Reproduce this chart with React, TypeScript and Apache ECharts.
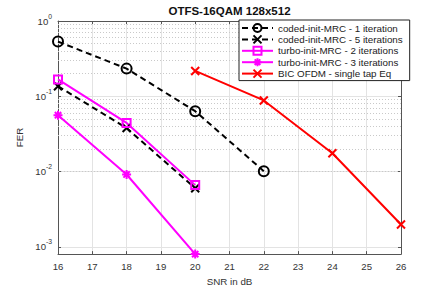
import React, { useEffect, useRef } from "react";
import * as echarts from "echarts";

const snrTicks = [16, 17, 18, 19, 20, 21, 22, 23, 24, 25, 26];
const codedMrc1X = [16, 18, 20, 22];
const codedMrc1 = [0.533, 0.233, 0.0634, 0.0101];
const codedMrc5X = [16, 18, 20];
const codedMrc5 = [0.136, 0.0378, 0.006];
const turbo2X = [16, 18, 20];
const turbo2 = [0.1675, 0.0442, 0.0066];
const turbo3X = [16, 18, 20];
const turbo3 = [0.056, 0.00914, 0.0008];
const ofdmX = [20, 22, 24, 26];
const ofdm = [0.217, 0.088, 0.0175, 0.00198];
const minorGrid = [
  0.0009,
  0.002, 0.003, 0.004, 0.005, 0.006, 0.007, 0.008, 0.009,
  0.02, 0.03, 0.04, 0.05, 0.06, 0.07, 0.08, 0.09,
  0.2, 0.3, 0.4, 0.5, 0.6, 0.7, 0.8, 0.9,
];
const names = [
  "coded-init-MRC - 1 iteration",
  "coded-init-MRC - 5 iterations",
  "turbo-init-MRC - 2 iterations",
  "turbo-init-MRC - 3 iterations",
  "BIC OFDM - single tap Eq",
];

const FONT = "'Liberation Sans', Arial, Helvetica, sans-serif";
const X_SYM = "path://M0,0L10,10M10,0L0,10";
const STAR_SYM = "path://M5,0L5,10M0,5L10,5M1.5,1.5L8.5,8.5M8.5,1.5L1.5,8.5";
const CIRCLE_SYM = "path://M10,5A5,5,0,1,1,0,5A5,5,0,1,1,10,5Z";
const RECT_SYM = "path://M0,0L10,0L10,10L0,10Z";

const zip = (xs: number[], ys: number[]) => xs.map((x, i) => [x, ys[i]]);

function mkSeries(
  name: string,
  xs: number[],
  ys: number[],
  color: string,
  dashed: boolean,
  symbol: string,
  size: number
) {
  return {
    name,
    type: "line",
    data: zip(xs, ys),
    symbol,
    symbolSize: size,
    showAllSymbol: true,
    z: 3,
    lineStyle: { color, width: 2, type: dashed ? [6, 4] : "solid" },
    itemStyle: { color: "rgba(0,0,0,0)", borderColor: color, borderWidth: 2 },
    emphasis: { disabled: true },
  };
}

export default function App() {
  const ref = useRef<HTMLDivElement>(null);
  useEffect(() => {
    if (!ref.current) return;
    const chart = echarts.init(ref.current, null, { renderer: "svg" });
    const axisColor = "#555";
    const labelColor = "#333";
    chart.setOption({
      animation: false,
      textStyle: { fontFamily: FONT },
      grid: { left: 58, right: 42, top: 21, bottom: 33 },
      legend: {
        data: names,
        orient: "vertical",
        left: 239,
        top: 20,
        padding: [3, 7, 2, 2],
        itemWidth: 31,
        itemHeight: 10,
        itemGap: 1.4,
        backgroundColor: "#fff",
        borderColor: "#222",
        borderWidth: 1,
        borderRadius: 0,
        textStyle: { fontFamily: FONT, fontSize: 9.8, color: "#222", lineHeight: 10 },
        selectedMode: false,
      },
      xAxis: [
        {
          type: "value",
          min: 16,
          max: 26,
          interval: 1,
          name: "SNR in dB",
          nameLocation: "middle",
          nameGap: 18,
          nameTextStyle: { fontFamily: FONT, fontSize: 9.8, color: labelColor },
          axisLine: { show: true, lineStyle: { color: axisColor, width: 1 } },
          axisTick: { show: true, inside: true, length: 3, lineStyle: { color: axisColor } },
          axisLabel: {
            margin: 7,
            fontFamily: FONT,
            fontSize: 9.6,
            color: labelColor,
            customValues: snrTicks,
          },
          splitLine: { show: true, lineStyle: { color: "#e3e3e3", width: 1 } },
        },
        {
          type: "value",
          position: "top",
          min: 16,
          max: 26,
          interval: 1,
          name: "OTFS-16QAM 128x512",
          nameLocation: "middle",
          nameGap: 4,
          nameTextStyle: { fontFamily: FONT, fontSize: 11.5, fontWeight: "bold", color: "#111" },
          axisLine: { show: true, onZero: false, lineStyle: { color: axisColor, width: 1 } },
          axisTick: { show: true, inside: true, length: 3, lineStyle: { color: axisColor } },
          axisLabel: { show: false },
          splitLine: { show: false },
        },
      ],
      yAxis: [
        {
          type: "log",
          logBase: 10,
          min: 0.0008,
          max: 1,
          name: "FER",
          nameLocation: "middle",
          nameGap: 30,
          nameTextStyle: { fontFamily: FONT, fontSize: 9.8, color: labelColor },
          axisLine: { show: true, lineStyle: { color: axisColor, width: 1 } },
          axisTick: { show: true, inside: true, length: 3, lineStyle: { color: axisColor } },
          axisLabel: {
            margin: 6,
            formatter: (v: number) => {
              const e = Math.log10(v);
              if (Math.abs(e - Math.round(e)) > 1e-6) return "";
              return `{b|10}{s|${Math.round(e)}}`;
            },
            rich: {
              b: { fontFamily: FONT, fontSize: 9.6, color: labelColor, lineHeight: 17 },
              s: { fontFamily: FONT, fontSize: 6.8, color: labelColor, verticalAlign: "top", lineHeight: 8 },
            },
          },
          splitLine: { show: true, lineStyle: { color: "#e3e3e3", width: 1 } },
        },
        {
          type: "log",
          logBase: 10,
          position: "right",
          min: 0.0008,
          max: 1,
          axisLine: { show: true, onZero: false, lineStyle: { color: axisColor, width: 1 } },
          axisTick: { show: true, inside: true, length: 3, lineStyle: { color: axisColor } },
          axisLabel: { show: false },
          splitLine: { show: false },
        },
      ],
      series: [
        {
          name: "minor-grid",
          type: "line",
          data: [],
          z: 1,
          silent: true,
          markLine: {
            silent: true,
            symbol: "none",
            z: 1,
            label: { show: false },
            lineStyle: { color: "#c9c9c9", type: [1, 2], width: 1 },
            emphasis: { disabled: true },
            data: minorGrid.map((v) => ({ yAxis: v })),
          },
        },
        mkSeries(names[0], codedMrc1X, codedMrc1, "#000000", true, CIRCLE_SYM, 10),
        mkSeries(names[1], codedMrc5X, codedMrc5, "#000000", true, X_SYM, 8),
        mkSeries(names[2], turbo2X, turbo2, "#ff00ff", false, RECT_SYM, 8),
        mkSeries(names[3], turbo3X, turbo3, "#ff00ff", false, STAR_SYM, 9),
        mkSeries(names[4], ofdmX, ofdm, "#ff0000", false, X_SYM, 8),
      ],
    });
    return () => chart.dispose();
  }, []);
  return (
    <div
      ref={ref}
      style={{ position: "fixed", left: 0, top: 0, width: 443, height: 291, background: "#fff" }}
    />
  );
}
